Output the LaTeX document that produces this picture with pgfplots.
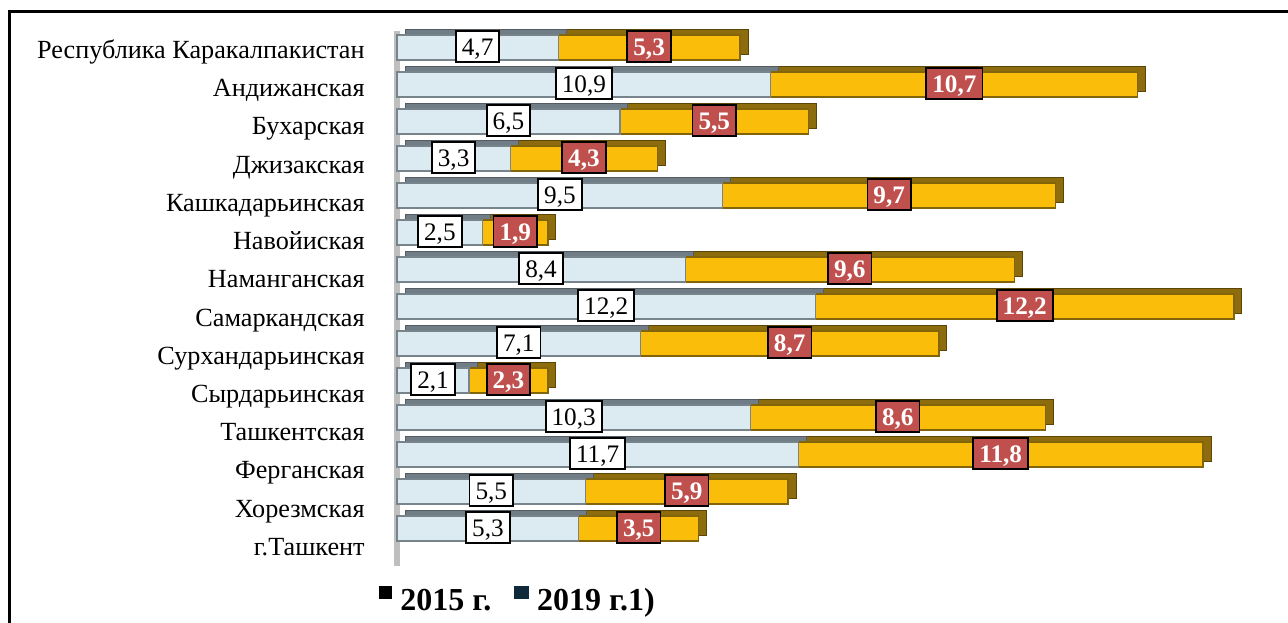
\documentclass[border=0pt]{standalone}
\usepackage{fontspec}
\setmainfont{Liberation Serif}
\usepackage{pgfplots}
\usepackage{pgfplotstable}
\pgfplotsset{compat=1.18}

\definecolor{blueFront}{RGB}{220,234,242}
\definecolor{blueEdge}{RGB}{120,132,140}
\definecolor{blueTop}{RGB}{112,124,134}
\definecolor{goldFront}{RGB}{250,190,10}
\definecolor{goldEdge}{RGB}{130,100,10}
\definecolor{goldTop}{RGB}{140,108,12}
\definecolor{redBox}{RGB}{192,80,77}
\definecolor{legTwo}{RGB}{14,42,58}

\pgfplotstableread{
idx v15 v19 l15 l19
0 4.7 5.3 4,7 5,3
1 10.9 10.7 10,9 10,7
2 6.5 5.5 6,5 5,5
3 3.3 4.3 3,3 4,3
4 9.5 9.7 9,5 9,7
5 2.5 1.9 2,5 1,9
6 8.4 9.6 8,4 9,6
7 12.2 12.2 12,2 12,2
8 7.1 8.7 7,1 8,7
9 2.1 2.3 2,1 2,3
10 10.3 8.6 10,3 8,6
11 11.7 11.8 11,7 11,8
12 5.5 5.9 5,5 5,9
13 5.3 3.5 5,3 3,5
}\data

\pgfplotsset{
  barsgeom/.style={
    width=428.75pt, height=259pt, scale only axis,
    xmin=0, xmax=25, ymin=-0.5, ymax=13.5, y dir=reverse,
    clip=false,
  },
}

\begin{document}
\begin{tikzpicture}[x=0.5pt,y=0.5pt]
\useasboundingbox (0,0) rectangle (1288,622);
\draw[line width=1.5pt] (9,-10) -- (9,610) -- (1300,610);

% category labels and left wall
\begin{axis}[
  at={(198.5pt,27.95pt)}, anchor=south west,
  width=428.75pt, height=267.6pt, scale only axis,
  xmin=0, xmax=25, ymin=-0.5, ymax=13.5, y dir=reverse,
  axis x line=none, axis y line=left,
  y axis line style={line width=3pt, color=gray!50, -},
  ytick={0,...,13}, major tick length=0pt,
  yticklabels={{Республика Каракалпакистан},{Андижанская},{Бухарская\hspace{6pt}},{Джизакская},{Кашкадарьинская\hspace{4pt}},{Навойиская},{Наманганская},{Самаркандская},{Сурхандарьинская},{Сырдарьинская},{Ташкентская},{Ферганская},{Хорезмская\hspace{4pt}},{г.Ташкент\hspace{2pt}}},
  yticklabel style={anchor=east, inner sep=0pt, xshift=-16pt, text height=9.4pt, text depth=1pt, font=\fontsize{13.1}{15}\selectfont},
]
\end{axis}

% 3D back faces (top and side)
\begin{axis}[barsgeom, at={(202.5pt,40.5pt)}, anchor=south west,
  axis lines=none, xbar stacked, bar width=12.5pt]
\addplot[fill=blueTop, draw=blueEdge!70!black, line width=0.5pt] table[x=v15,y=idx]{\data};
\addplot[fill=goldTop, draw=goldEdge!70!black, line width=0.5pt] table[x=v19,y=idx]{\data};
\end{axis}

% front faces
\begin{axis}[barsgeom, at={(198.5pt,37.5pt)}, anchor=south west,
  axis lines=none, xbar stacked, bar width=12.5pt,
  legend style={at={(axis description cs:-0.022,-0.104)}, anchor=west, draw=none, fill=none,
    font=\bfseries\fontsize{16}{18}\selectfont, inner sep=0pt,
    /tikz/every odd column/.append style={column sep=2pt},
    /tikz/every even column/.append style={column sep=9.5pt}},
  legend columns=2,
]
\addplot[fill=blueFront, draw=blueEdge, line width=0.6pt,
  legend image code/.code={\fill[black] (0pt,1pt) rectangle (6.3pt,7.3pt);}]
  table[x=v15,y=idx]{\data};
\addplot[fill=goldFront, draw=goldEdge, line width=0.6pt,
  legend image code/.code={\fill[legTwo] (0pt,1pt) rectangle (6.8pt,7.3pt);}]
  table[x=v19,y=idx]{\data};
\legend{2015 г.,2019 г.1)}
\end{axis}

% data labels
\begin{axis}[barsgeom, at={(198.5pt,38pt)}, anchor=south west, axis lines=none]
\addplot[draw=none, mark=none, nodes near coords, point meta=explicit symbolic,
  every node near coord/.append style={anchor=center, fill=white, draw=black, line width=0.9pt,
    inner xsep=3pt, inner ysep=3.6pt, text height=8.6pt, text depth=0pt,
    font=\fontsize{12.6}{14}\selectfont, text=black}]
  table[x expr=\thisrow{v15}/2, y=idx, meta=l15]{\data};
\addplot[draw=none, mark=none, nodes near coords, point meta=explicit symbolic,
  every node near coord/.append style={anchor=center, fill=redBox, draw=black, line width=0.9pt,
    inner xsep=3pt, inner ysep=3.6pt, text height=8.6pt, text depth=0pt,
    font=\bfseries\fontsize{12.6}{14}\selectfont, text=white}]
  table[x expr=\thisrow{v15}+\thisrow{v19}/2, y=idx, meta=l19]{\data};
\end{axis}
\end{tikzpicture}
\end{document}
